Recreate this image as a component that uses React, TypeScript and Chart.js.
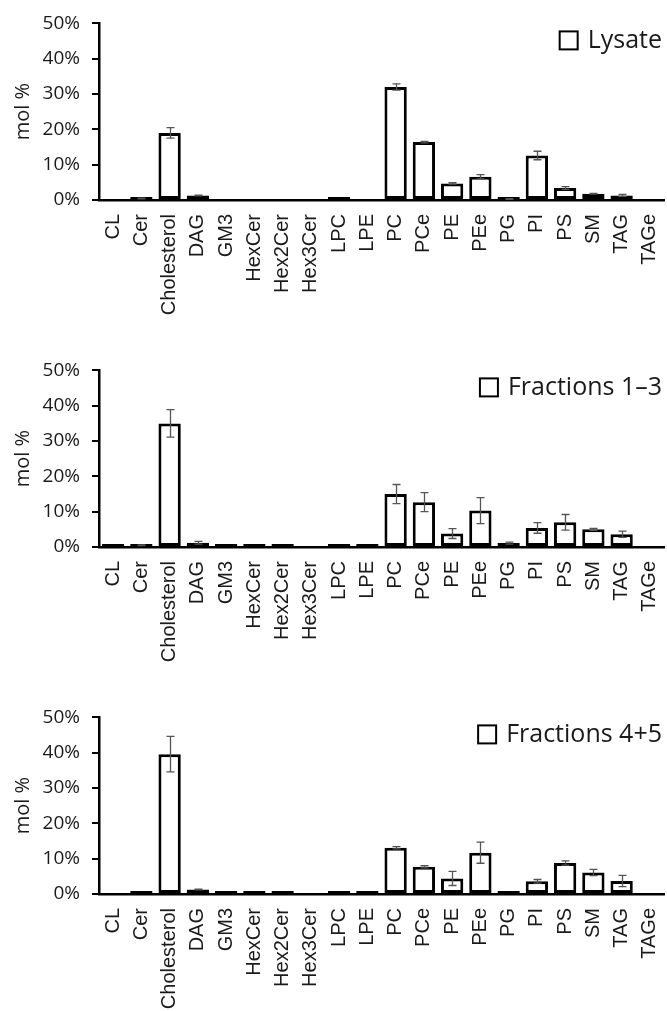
import React, { useEffect, useRef } from 'react';
import { Chart, registerables } from 'chart.js';

Chart.register(...registerables);

const categories = ['CL', 'Cer', 'Cholesterol', 'DAG', 'GM3', 'HexCer', 'Hex2Cer', 'Hex3Cer', 'LPC', 'LPE', 'PC', 'PCe', 'PE', 'PEe', 'PG', 'PI', 'PS', 'SM', 'TAG', 'TAGe'];
const yTickValues = [0, 10, 20, 30, 40, 50];

const lysateValues = [0, 0.4, 19.0, 1.3, 0, 0, 0, 0, 0.2, 0, 32.0, 16.4, 4.7, 6.6, 0.3, 12.6, 3.4, 1.8, 1.3, 0];
const lysateErrors = [0, 0.1, 1.5, 0.1, 0, 0, 0, 0, 0, 0, 0.9, 0.2, 0.2, 0.6, 0.1, 1.2, 0.4, 0.1, 0.3, 0];

const fractions13Values = [0.3, 0.5, 35.0, 1.2, 0.2, 0.2, 0.2, 0, 0.2, 0.2, 15.0, 12.7, 3.8, 10.3, 1.1, 5.4, 7.0, 5.0, 3.6, 0];
const fractions13Errors = [0, 0.1, 3.9, 0.4, 0, 0, 0, 0, 0, 0, 2.7, 2.7, 1.4, 3.7, 0.3, 1.5, 2.2, 0.3, 0.9, 0];

const fractions45Values = [0, 0.2, 39.6, 1.3, 0.1, 0.2, 0.1, 0, 0.1, 0.1, 13.1, 7.7, 4.4, 11.7, 0.2, 3.6, 8.8, 6.1, 3.7, 0];
const fractions45Errors = [0, 0, 5.0, 0.1, 0, 0, 0, 0, 0, 0, 0.3, 0.3, 2.0, 3.0, 0, 0.5, 0.6, 0.9, 1.6, 0];

const panelLabels = ['Lysate', 'Fractions 1\u20133', 'Fractions 4+5'];

const TEXT = '#1a1a1a';
const ZERO_Y = 200;

const errorBarPlugin = {
  id: 'errorBars',
  afterDatasetsDraw(chart: any) {
    const { ctx } = chart;
    const y = chart.scales.y;
    chart.data.datasets.forEach((ds: any, di: number) => {
      const errs: number[] = ds.errors;
      if (!errs) return;
      const meta = chart.getDatasetMeta(di);
      ctx.save();
      ctx.strokeStyle = '#555';
      ctx.lineWidth = 1.3;
      meta.data.forEach((bar: any, i: number) => {
        const e = errs[i];
        const v = ds.data[i];
        if (!e || v == null) return;
        const xc = Math.round(bar.x) + 0.5;
        const yt = y.getPixelForValue(v + e);
        const yb = y.getPixelForValue(Math.max(v - e, 0));
        ctx.beginPath();
        ctx.moveTo(xc, yt);
        ctx.lineTo(xc, yb);
        ctx.moveTo(xc - 4, yt);
        ctx.lineTo(xc + 4, yt);
        ctx.moveTo(xc - 4, yb);
        ctx.lineTo(xc + 4, yb);
        ctx.stroke();
      });
      ctx.restore();
    });
  },
};

const cornerLegendPlugin = {
  id: 'cornerLegend',
  afterDraw(chart: any) {
    const { ctx, chartArea } = chart;
    const text: string = chart.data.datasets[0].label;
    ctx.save();
    ctx.font = '25px "Open Sans", sans-serif';
    ctx.fillStyle = TEXT;
    ctx.textBaseline = 'middle';
    ctx.textAlign = 'left';
    const w = ctx.measureText(text).width;
    const cy = chartArea.top + 17;
    const textLeft = chartArea.right - 2 - w;
    ctx.fillText(text, textLeft, cy);
    const boxRight = textLeft - 10;
    ctx.fillStyle = '#fff';
    ctx.fillRect(boxRight - 18, cy - 9, 18, 18);
    ctx.strokeStyle = '#000';
    ctx.lineWidth = 2;
    ctx.strokeRect(boxRight - 18, cy - 9, 18, 18);
    ctx.restore();
  },
};

function Panel({ label, values, errors, height }: { label: string; values: number[]; errors: number[]; height: number }) {
  const ref = useRef<HTMLCanvasElement>(null);
  useEffect(() => {
    if (!ref.current) return;
    const chart = new Chart(ref.current, {
      type: 'bar',
      data: {
        labels: categories,
        datasets: [
          {
            label,
            data: values.map((v) => (v === 0 ? null : v)),
            errors,
            backgroundColor: '#ffffff',
            borderColor: '#000000',
            borderWidth: 3,
            borderSkipped: false,
            categoryPercentage: 0.79,
            barPercentage: 1,
            minBarLength: 3,
          } as any,
        ],
      },
      options: {
        responsive: false,
        maintainAspectRatio: false,
        animation: false,
        layout: { padding: { top: 22, right: 3, left: 0, bottom: 0 } },
        plugins: {
          legend: { display: false },
          tooltip: { enabled: false },
        },
        scales: {
          x: {
            grid: { display: false, drawTicks: false },
            border: { display: true, color: '#000', width: 2.5 },
            ticks: {
              minRotation: 90,
              maxRotation: 90,
              autoSkip: false,
              padding: 14,
              color: TEXT,
              font: { family: '"Liberation Sans", Arial, sans-serif', size: 20 },
            },
            afterFit: (s: any) => {
              s.height = height - ZERO_Y;
              s.paddingLeft = 0;
              s.paddingRight = 0;
            },
          },
          y: {
            min: 0,
            max: 50,
            afterBuildTicks: (s: any) => {
              s.ticks = yTickValues.map((v) => ({ value: v }));
            },
            ticks: {
              callback: (v: any) => v + '%',
              padding: 12,
              color: TEXT,
              font: { family: '"Open Sans", sans-serif', size: 19 },
            },
            grid: { drawOnChartArea: false, drawTicks: true, tickLength: 7, color: '#000', lineWidth: 2 },
            border: { display: true, color: '#000', width: 2.5 },
            title: {
              display: true,
              text: 'mol %',
              color: TEXT,
              font: { family: '"Open Sans", sans-serif', size: 20 },
              padding: { top: 11, bottom: 0 },
            },
            afterFit: (s: any) => {
              s.width = 99;
            },
          },
        },
      },
      plugins: [errorBarPlugin, cornerLegendPlugin],
    });
    return () => chart.destroy();
  }, []);
  return <canvas ref={ref} width={667} height={height} style={{ display: 'block', width: 667, height }} />;
}

export default function App() {
  const panels = [
    { values: lysateValues, errors: lysateErrors, top: 0, height: 347 },
    { values: fractions13Values, errors: fractions13Errors, top: 347, height: 347 },
    { values: fractions45Values, errors: fractions45Errors, top: 694, height: 317 },
  ];
  return (
    <div style={{ position: 'absolute', left: 0, top: 0, width: 667, height: 1011, background: '#fff', overflow: 'hidden' }}>
      {panels.map((p, i) => (
        <div key={i} style={{ position: 'absolute', left: 0, top: p.top, width: 667, height: p.height }}>
          <Panel label={panelLabels[i]} values={p.values} errors={p.errors} height={p.height} />
        </div>
      ))}
    </div>
  );
}
